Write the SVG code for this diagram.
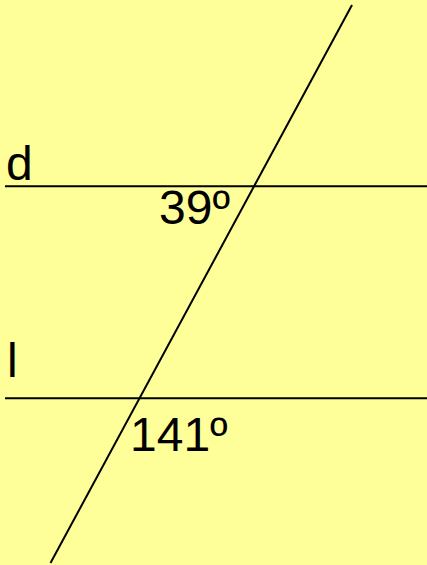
<svg xmlns="http://www.w3.org/2000/svg" width="427" height="565" viewBox="0 0 427 565">
<style>
.ln{stroke:#000;stroke-width:2;fill:none}
.t{font-family:"Liberation Sans",Arial,sans-serif;font-size:48px;fill:#000}
</style>
<rect width="427" height="565" fill="#FFFF99"/>
<g id="connectors">
<line class="ln" x1="5" y1="186.3" x2="427" y2="186.3"/>
<line class="ln" x1="5" y1="398.3" x2="427" y2="398.3"/>
<line class="ln" x1="352" y1="5" x2="50.5" y2="563"/>
</g>
<g id="label-d"><text class="t" x="6" y="180">d</text></g>
<g id="label-39"><text class="t" x="159" y="224">39º</text></g>
<g id="label-l"><text class="t" x="7" y="377">l</text></g>
<g id="label-141"><text class="t" x="130" y="451">141º</text></g>
</svg>
